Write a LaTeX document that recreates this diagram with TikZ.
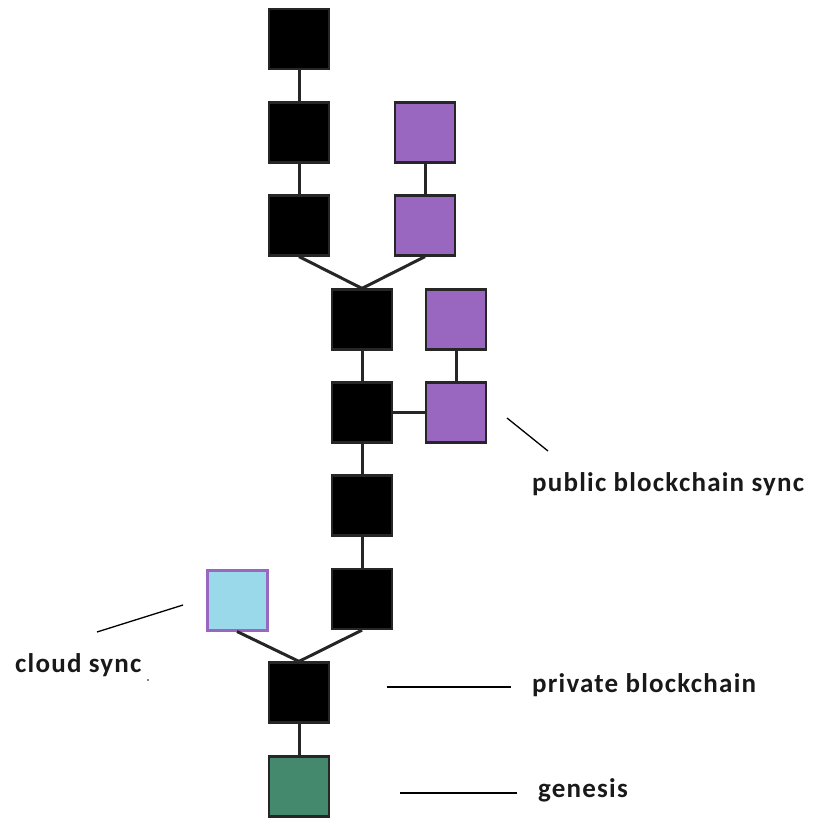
\documentclass[tikz,border=0pt]{standalone}
\usepackage{fontspec}
\setmainfont{Carlito}
\begin{document}
\begin{tikzpicture}[x=1pt,y=-1pt,
  blk/.style={draw=black!85,line width=2.2pt,minimum size=60pt,inner sep=0pt,fill=#1},
  blk/.default=black,
  link/.style={line width=3pt,draw=black!85},
  thin/.style={line width=1.3pt},
  lbl/.style={anchor=west,inner sep=0pt,font=\bfseries\fontsize{27}{30}\selectfont\addfontfeature{LetterSpace=4.5},text=black!90}]
\definecolor{purp}{HTML}{9966C0}
\definecolor{sky}{HTML}{99D9EA}
\definecolor{gen}{HTML}{44896E}
\useasboundingbox (0,0) rectangle (814,818);
% left chain
\node[blk] (a1) at (299,39) {};
\node[blk] (a2) at (299,132.5) {};
\node[blk] (a3) at (299,225.5) {};
% purple upper branch
\node[blk=purp] (p1) at (425,132.5) {};
\node[blk=purp] (p2) at (425,225.5) {};
% middle chain
\node[blk] (m1) at (362,319.5) {};
\node[blk] (m2) at (362,412.5) {};
\node[blk] (m3) at (362,505.5) {};
\node[blk] (m4) at (362,599) {};
% purple right
\node[blk=purp] (p3) at (456,319.5) {};
\node[blk=purp] (p4) at (456,412.5) {};
% cloud
\node[blk=sky,draw=purp,line width=3pt] (c1) at (237,600) {};
% bottom
\node[blk] (b1) at (299,692.5) {};
\node[blk=gen] (g1) at (299,786.5) {};
% connectors
\draw[link] (a1) -- (a2);
\draw[link] (a2) -- (a3);
\draw[link] (p1) -- (p2);
\draw[link] (a3.south) -- (m1.north);
\draw[link] (p2.south) -- (m1.north);
\draw[link] (m1) -- (m2);
\draw[link] (m2) -- (m3);
\draw[link] (m3) -- (m4);
\draw[link] (p3) -- (p4);
\draw[link,line width=2.2pt] (m2) -- (p4);
\draw[link] (c1.south) -- (b1.north);
\draw[link] (m4.south) -- (b1.north);
\draw[link] (b1) -- (g1);
% labels
\node[lbl] (tpub) at (532,484) {public blockchain sync};
\node[lbl] (tcloud) at (15,665) {cloud sync};
\node[lbl] (tpriv) at (532,685) {private blockchain};
\node[lbl] (tgen) at (538,790) {genesis};
\coordinate (lp1) at (507,418);
\coordinate (lp2) at (548,451);
\coordinate (lc1) at (97,632);
\coordinate (lc2) at (183,605);
\coordinate (lr1) at (387,687);
\coordinate (lr2) at (511,687);
\coordinate (lg1) at (400,793);
\coordinate (lg2) at (517,793);
\draw[thin] (lp1) -- (lp2);
\draw[thin] (lc1) -- (lc2);
\draw[thin] (lr1) -- (lr2);
\draw[thin] (lg1) -- (lg2);
\fill (148,680) circle (0.8);
\end{tikzpicture}
\end{document}
